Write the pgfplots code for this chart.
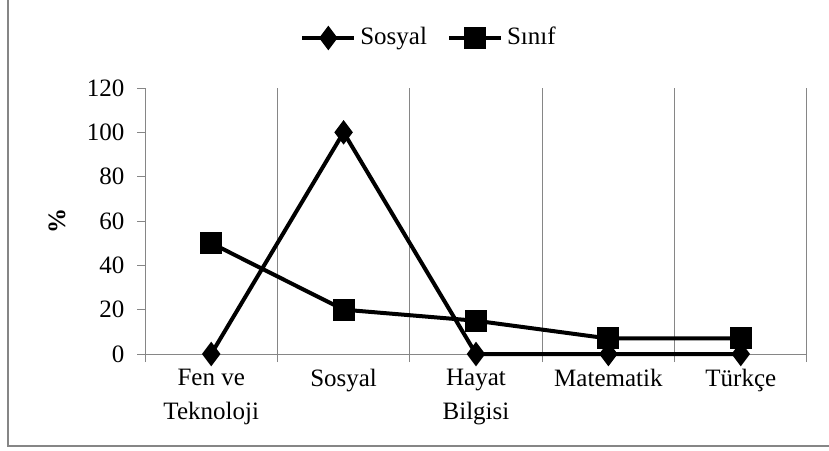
\documentclass[border=0pt]{standalone}
\usepackage{fontspec}
\setmainfont{Liberation Serif}
\usepackage{pgfplots}
\pgfplotsset{compat=1.18}
\definecolor{axgray}{HTML}{868686}
\begin{document}
\fontsize{12.5}{17}\selectfont
\begin{tikzpicture}
\useasboundingbox (0,0) rectangle (414.5pt,225pt);
\draw[axgray, line width=1.2pt] (4pt,225pt) -- (4pt,2pt) -- (414.5pt,2pt);
\begin{axis}[
  at={(72.5pt,48pt)}, anchor=south west,
  scale only axis, width=331pt, height=133pt,
  xmin=-0.5, xmax=4.5, ymin=0, ymax=120,
  axis x line=bottom, axis y line=left,
  axis line style={axgray, line width=0.5pt, -},
  xtick={-0.5,0.5,...,4.5}, xticklabels={},
  xmajorgrids, grid style={axgray, line width=0.5pt},
  extra x ticks={0,1,2,3,4},
  extra x tick labels={{Fen ve\\Teknoloji},Sosyal,{Hayat\\Bilgisi},Matematik,Türkçe},
  extra x tick style={major tick length=0pt, grid=none,
    xticklabel style={align=center, font=\fontsize{12.5}{17}\selectfont, yshift=-3pt}},
  ytick={0,20,...,120},
  tick align=outside, major tick length=4pt,
  tick style={axgray, line width=0.5pt},
  ticklabel style={font=\fontsize{12.5}{14}\selectfont},
  yticklabel style={xshift=-2pt},
  /pgf/number format/assume math mode=true,
  ylabel={\textbf{\%}},
  every axis y label/.style={at={(rel axis cs:0,0.5)}, xshift=-44pt, rotate=90, anchor=center, font=\fontsize{12.5}{14}\selectfont},
  clip=false,
  legend style={at={(0.4305,1.188)}, anchor=center, draw=none, fill=none,
    legend columns=2, font=\fontsize{12.5}{14}\selectfont,
    /tikz/every even column/.append style={column sep=8pt}},
  legend cell align=left,
  legend image code/.code={
    \draw[#1, mark repeat=2, mark phase=2] plot coordinates {(0pt,0pt) (13pt,0pt) (26pt,0pt)};},
]
\addplot[black, line width=2pt, mark=diamond*, mark size=4.5pt, mark options={solid}]
  coordinates {(0,0) (1,100) (2,0) (3,0) (4,0)};
\addlegendentry{Sosyal}
\addplot[black, line width=2pt, mark=square*, mark size=4.5pt, mark options={solid}]
  coordinates {(0,50) (1,20) (2,15) (3,7) (4,7)};
\addlegendentry{Sınıf}
\end{axis}
\end{tikzpicture}
\end{document}
